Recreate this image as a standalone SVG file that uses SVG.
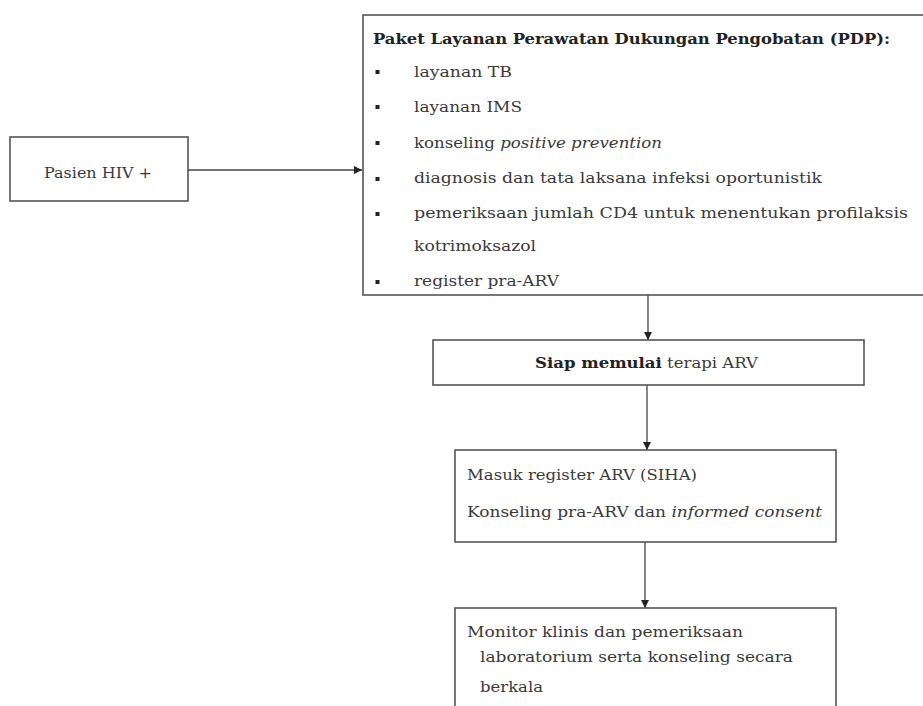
<svg xmlns="http://www.w3.org/2000/svg" width="923" height="706" viewBox="0 0 923 706">
<defs>
<style>
.box{fill:#fff;stroke:#555;stroke-width:1.6}
.t{font-family:"DejaVu Serif","Liberation Serif",serif;font-size:15px;fill:#3a3a3a}
.b{font-weight:bold;fill:#222}
.i{font-style:italic}
.c{stroke:#444;stroke-width:1.3;fill:none}
</style>
<marker id="ah" viewBox="0 0 10 10" refX="10" refY="5" markerWidth="8" markerHeight="8" markerUnits="userSpaceOnUse" orient="auto">
<path d="M0,0 L10,5 L0,10 z" fill="#222"/>
</marker>
</defs>
<rect width="923" height="706" fill="#fff"/>
<g id="connectors">
<line class="c" x1="188" y1="170" x2="362" y2="170" marker-end="url(#ah)"/>
<line class="c" x1="648" y1="295" x2="648" y2="340" marker-end="url(#ah)"/>
<line class="c" x1="647" y1="385" x2="647" y2="450" marker-end="url(#ah)"/>
<line class="c" x1="645" y1="542" x2="645" y2="608" marker-end="url(#ah)"/>
</g>
<g id="pasien">
<rect class="box" x="10" y="137" width="178" height="64"/>
<text class="t" x="44" y="178" textLength="108" lengthAdjust="spacingAndGlyphs">Pasien HIV +</text>
</g>
<g id="pdp">
<rect class="box" x="363" y="15" width="570" height="280"/>
<text class="t b" x="373" y="44" textLength="517" lengthAdjust="spacingAndGlyphs">Paket Layanan Perawatan Dukungan Pengobatan (PDP):</text>
<g fill="#222">
<rect x="375.5" y="70" width="4" height="4"/>
<rect x="375.5" y="105" width="4" height="4"/>
<rect x="375.5" y="141" width="4" height="4"/>
<rect x="375.5" y="177" width="4" height="4"/>
<rect x="375.5" y="212" width="4" height="4"/>
<rect x="375.5" y="280" width="4" height="4"/>
</g>
<text class="t" x="414" y="77" textLength="98" lengthAdjust="spacingAndGlyphs">layanan TB</text>
<text class="t" x="414" y="112" textLength="108" lengthAdjust="spacingAndGlyphs">layanan IMS</text>
<text class="t" x="414" y="148" textLength="248" lengthAdjust="spacingAndGlyphs">konseling <tspan class="i">positive prevention</tspan></text>
<text class="t" x="414" y="183" textLength="408" lengthAdjust="spacingAndGlyphs">diagnosis dan tata laksana infeksi oportunistik</text>
<text class="t" x="414" y="218" textLength="494" lengthAdjust="spacingAndGlyphs">pemeriksaan jumlah CD4 untuk menentukan profilaksis</text>
<text class="t" x="414" y="251" textLength="122" lengthAdjust="spacingAndGlyphs">kotrimoksazol</text>
<text class="t" x="414" y="286" textLength="145" lengthAdjust="spacingAndGlyphs">register pra-ARV</text>
</g>
<g id="siap">
<rect class="box" x="433" y="340" width="431" height="45"/>
<text class="t" x="535" y="368" textLength="223" lengthAdjust="spacingAndGlyphs"><tspan class="b">Siap memulai</tspan> terapi ARV</text>
</g>
<g id="masuk">
<rect class="box" x="455" y="450" width="381" height="92"/>
<text class="t" x="467" y="480" textLength="230" lengthAdjust="spacingAndGlyphs">Masuk register ARV (SIHA)</text>
<text class="t" x="467" y="517" textLength="355" lengthAdjust="spacingAndGlyphs">Konseling pra-ARV dan <tspan class="i">informed consent</tspan></text>
</g>
<g id="monitor">
<rect class="box" x="455" y="608" width="381" height="110"/>
<text class="t" x="467" y="637" textLength="276" lengthAdjust="spacingAndGlyphs">Monitor klinis dan pemeriksaan</text>
<text class="t" x="480" y="662" textLength="313" lengthAdjust="spacingAndGlyphs">laboratorium serta konseling secara</text>
<text class="t" x="480" y="692" textLength="63" lengthAdjust="spacingAndGlyphs">berkala</text>
</g>
</svg>
